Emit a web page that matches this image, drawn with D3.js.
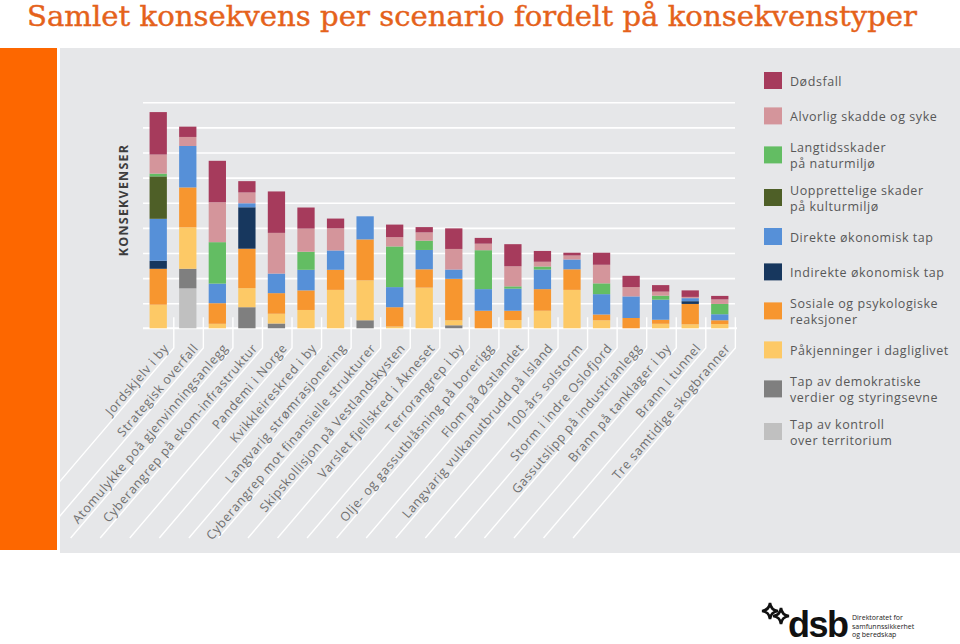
<!DOCTYPE html>
<html>
<head>
<meta charset="utf-8">
<script src="https://cdn.jsdelivr.net/npm/d3@7"></script>
<style>
  html, body { margin: 0; padding: 0; background: #ffffff; }
  svg { display: block; }
</style>
</head>
<body>
<div id="chart"></div>
<script>
// ---------- DATA ----------
const categories = [
  "Jordskjelv i by",
  "Strategisk overfall",
  "Atomulykke poå gjenvinningsanlegg",
  "Cyberangrep på ekom-infrastruktur",
  "Pandemi i Norge",
  "Kvikkleireskred i by",
  "Langvarig strømrasjonering",
  "Cyberangrep mot finansielle strukturer",
  "Skipskollisjon på Vestlandskysten",
  "Varslet fjellskred i Åkneset",
  "Terrorangrep i by",
  "Olje- og gassutblåsning på borerigg",
  "Flom på Østlandet",
  "Langvarig vulkanutbrudd på Island",
  "100-års solstorm",
  "Storm i indre Oslofjord",
  "Gassutslipp på industrianlegg",
  "Brann på tanklager i by",
  "Brann i tunnel",
  "Tre samtidige skogbranner"
];

// series (legend order, top of legend = top of stack)
const seriesNames = [
  "Dødsfall",
  "Alvorlig skadde og syke",
  "Langtidsskader\npå naturmiljø",
  "Uopprettelige skader\npå kulturmiljø",
  "Direkte økonomisk tap",
  "Indirekte økonomisk tap",
  "Sosiale og psykologiske\nreaksjoner",
  "Påkjenninger i dagliglivet",
  "Tap av demokratiske\nverdier og styringsevne",
  "Tap av kontroll\nover territorium"
];
const seriesColors = [
  "#a63b5c", "#d4959b", "#63bd63", "#4e5f27", "#5690d8",
  "#17375e", "#f7962f", "#fdc966", "#7f7f7f", "#c0c0c0"
];

const dodsfall     = [1.69,0.41,1.65,0.45,1.65,0.84,0.39,0.00,0.50,0.21,0.82,0.23,0.88,0.43,0.11,0.48,0.45,0.26,0.26,0.14];
const alvorlig     = [0.76,0.36,1.59,0.43,1.62,0.92,0.88,0.00,0.37,0.33,0.82,0.26,0.80,0.19,0.16,0.74,0.37,0.16,0.05,0.18];
const naturmiljo   = [0.11,0.00,1.65,0.00,0.00,0.72,0.00,0.00,1.62,0.37,0.00,1.55,0.09,0.12,0.00,0.43,0.00,0.16,0.00,0.41];
const kulturmiljo  = [1.69,0.00,0.00,0.00,0.00,0.00,0.00,0.00,0.00,0.00,0.00,0.00,0.00,0.00,0.00,0.00,0.00,0.00,0.00,0.00];
const direkteTap   = [1.67,1.65,0.78,0.16,0.78,0.82,0.77,0.92,0.80,0.77,0.37,0.86,0.88,0.78,0.39,0.81,0.86,0.80,0.12,0.24];
const indirekteTap = [0.32,0.00,0.00,1.65,0.00,0.00,0.00,0.00,0.00,0.00,0.00,0.00,0.00,0.00,0.00,0.00,0.00,0.00,0.11,0.00];
const sosiale      = [1.43,1.59,0.82,1.57,0.82,0.78,0.80,1.63,0.77,0.73,1.65,0.70,0.37,0.86,0.82,0.23,0.41,0.16,0.81,0.15];
const pakjenninger = [0.94,1.65,0.18,0.76,0.39,0.73,1.53,1.59,0.07,1.62,0.20,0.00,0.33,0.70,1.53,0.32,0.00,0.18,0.16,0.17];
const demokrati    = [0.00,0.78,0.00,0.84,0.19,0.00,0.00,0.32,0.00,0.00,0.12,0.00,0.00,0.00,0.00,0.00,0.00,0.00,0.00,0.00];
const territorium  = [0.00,1.59,0.00,0.00,0.00,0.00,0.00,0.00,0.00,0.00,0.00,0.00,0.00,0.00,0.00,0.00,0.00,0.00,0.00,0.00];

const seriesValues = [dodsfall, alvorlig, naturmiljo, kulturmiljo, direkteTap,
                      indirekteTap, sosiale, pakjenninger, demokrati, territorium];
const yTicks = [1,2,3,4,5,6,7,8,9];

const titleText = "Samlet konsekvens per scenario fordelt på konsekvenstyper";
const yAxisTitle = "KONSEKVENSER";

// ---------- CHART ----------
const W = 960, H = 644;
const svg = d3.select("#chart").append("svg")
  .attr("width", W).attr("height", H)
  .attr("viewBox", `0 0 ${W} ${H}`);

svg.append("rect").attr("width", W).attr("height", H).attr("fill", "#ffffff");

// title
svg.append("text")
  .attr("x", 27).attr("y", 26)
  .attr("font-family", "'DejaVu Serif', serif")
  .attr("font-size", 28)
  .attr("fill", "#e5621b")
  .attr("stroke", "#e5621b").attr("stroke-width", 0.4)
  .attr("textLength", 890)
  .attr("lengthAdjust", "spacingAndGlyphs")
  .text(titleText);

// decorative orange block and grey panel
svg.append("rect").attr("x", 0).attr("y", 48).attr("width", 57).attr("height", 502).attr("fill", "#fd6700");
svg.append("rect").attr("x", 60).attr("y", 48).attr("width", 900).attr("height", 505).attr("fill", "#e6e7e9");

svg.append("defs").append("clipPath").attr("id", "panelClip")
  .append("rect").attr("x", 60).attr("y", 48).attr("width", 900).attr("height", 505);

// scales
const x = d3.scaleBand().domain(categories).range([143, 735]).paddingInner(0.415).paddingOuter(0.2225);
const y = d3.scaleLinear().domain([0, 9]).range([328.3, 102.3]);

// gridlines via axis
const gridAxis = d3.axisLeft(y).tickValues(yTicks).tickSize(-(735 - 143)).tickFormat("");
const grid = svg.append("g").attr("transform", "translate(143,0)").call(gridAxis);
grid.select(".domain").remove();
grid.selectAll(".tick line").attr("stroke", "#ffffff").attr("stroke-width", 1.6);

// baseline
svg.append("line")
  .attr("x1", 143).attr("x2", 737)
  .attr("y1", y(0)).attr("y2", y(0))
  .attr("stroke", "#ffffff").attr("stroke-width", 2);

// category leader lines + labels
const ang = 49.5 * Math.PI / 180;
const bendY = 348, endY = 538;
const leaders = svg.append("g").attr("clip-path", "url(#panelClip)");
categories.forEach(c => {
  const xv = x(c) + x.bandwidth() / 2 + x.step() / 2 + 0.8;
  const xe = xv - (endY - bendY) / Math.tan(ang);
  leaders.append("path")
    .attr("d", `M${xv},${y(0) - 11}V${bendY}L${xe},${endY}`)
    .attr("fill", "none").attr("stroke", "#ffffff").attr("stroke-width", 1.4);
  const t = 3, off = 3;
  const px = xv - Math.cos(ang) * t - Math.sin(ang) * off;
  const py = bendY + Math.sin(ang) * t - Math.cos(ang) * off;
  leaders.append("text")
    .attr("transform", `translate(${px},${py}) rotate(${-49.5})`)
    .attr("text-anchor", "end")
    .attr("font-family", "'Open Sans', sans-serif")
    .attr("font-size", 12.5)
    .attr("letter-spacing", 0.7)
    .attr("fill", "#6f6f6f")
    .text(c);
});

// stacked bars
const rows = categories.map((c, i) => {
  const r = { cat: c };
  seriesNames.forEach((s, k) => r[s] = seriesValues[k][i]);
  return r;
});
const stackKeys = seriesNames.slice().reverse(); // bottom -> top
const stacked = d3.stack().keys(stackKeys)(rows);
const color = d3.scaleOrdinal().domain(seriesNames).range(seriesColors);

svg.append("g").selectAll("g").data(stacked).join("g")
  .attr("fill", d => color(d.key))
  .selectAll("rect").data(d => d).join("rect")
  .attr("x", d => x(d.data.cat))
  .attr("width", x.bandwidth())
  .attr("y", d => y(d[1]))
  .attr("height", d => Math.max(0, y(d[0]) - y(d[1])));

// y axis title
svg.append("text")
  .attr("transform", `translate(128,200) rotate(-90)`)
  .attr("text-anchor", "middle")
  .attr("font-family", "'Open Sans', sans-serif")
  .attr("font-weight", 700)
  .attr("font-size", 12.5)
  .attr("letter-spacing", 1.2)
  .attr("fill", "#3d3d3d")
  .text(yAxisTitle);

// legend
const legend = svg.append("g");
let cy = 80.5;
seriesNames.forEach((s, k) => {
  const lines = s.split("\n");
  if (k > 0) {
    const prevLines = seriesNames[k - 1].split("\n").length;
    cy += 35.4 + 3.6 * (prevLines - 1) + 3.6 * (lines.length - 1);
  }
  legend.append("rect")
    .attr("x", 764).attr("y", cy - 8.5).attr("width", 18).attr("height", 17)
    .attr("fill", seriesColors[k]);
  const baselines = lines.length === 1 ? [cy + 5] : [cy - 2.5, cy + 13];
  lines.forEach((ln, j) => {
    legend.append("text")
      .attr("x", 790).attr("y", baselines[j])
      .attr("font-family", "'Open Sans', sans-serif")
      .attr("font-size", 12.5)
      .attr("letter-spacing", 0.55)
      .attr("fill", "#585858")
      .text(ln);
  });
});

// DSB logo
const logo = svg.append("g");
function sparkle(cx, cy, r) {
  const k = r * 0.35;
  return `M${cx},${cy - r} Q${cx + k * 0.3},${cy - k * 0.3} ${cx + r},${cy} Q${cx + k * 0.3},${cy + k * 0.3} ${cx},${cy + r} Q${cx - k * 0.3},${cy + k * 0.3} ${cx - r},${cy} Q${cx - k * 0.3},${cy - k * 0.3} ${cx},${cy - r}Z`;
}
logo.append("path").attr("d", sparkle(770, 611, 8)).attr("fill", "none").attr("stroke", "#111").attr("stroke-width", 2.6);
logo.append("path").attr("d", sparkle(781, 616, 8)).attr("fill", "none").attr("stroke", "#111").attr("stroke-width", 2.6);
logo.append("text")
  .attr("x", 788).attr("y", 637)
  .attr("font-family", "'Liberation Sans', Arial, sans-serif")
  .attr("font-weight", 700)
  .attr("font-size", 36)
  .attr("letter-spacing", -1.5)
  .attr("fill", "#111")
  .text("dsb");
const small = ["Direktoratet for", "samfunnssikkerhet", "og beredskap"];
small.forEach((s, i) => {
  logo.append("text")
    .attr("x", 852).attr("y", 620 + i * 8.5)
    .attr("font-family", "'Open Sans', sans-serif")
    .attr("font-size", 7)
    .attr("fill", "#222")
    .text(s);
});
</script>
</body>
</html>
